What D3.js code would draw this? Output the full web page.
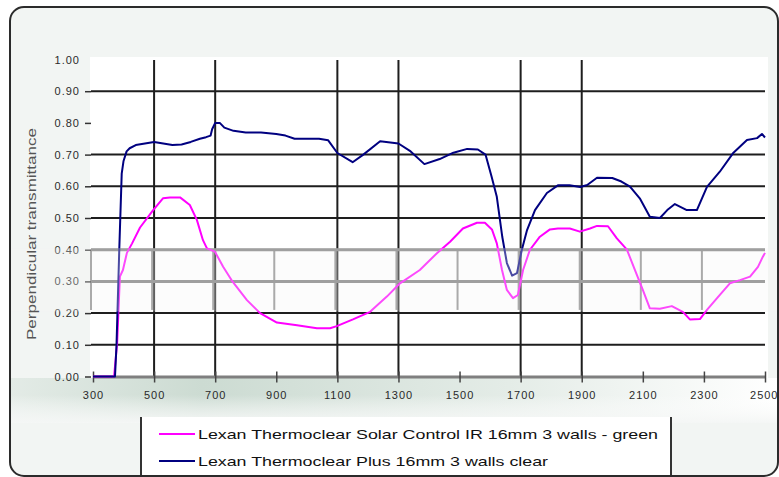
<html>
<head>
    <title>Perpendicular transmittance</title>
    <script src="https://d3js.org/d3.v7.min.js"></script>
    <style>
        body { margin: 0; background: #fff; }
        .tickLabels text { font-family: "Liberation Sans", Arial, sans-serif; font-size: 11px; fill: #2a2a2a; letter-spacing: 1px; }
        .legendLabels { font-family: "Liberation Sans", Arial, sans-serif; font-size: 13px; fill: #111; }
    </style>
</head>
<body>
<svg id="chart" width="779" height="477"></svg>
<script>

    // wavelength (nm) / transmittance pairs
    const blueWl = [300, 372, 377, 386, 394, 400, 410, 420, 440, 470, 500, 530, 560, 590, 620, 650, 670, 685, 690, 700,
        715, 730, 760, 800, 850, 900, 930, 960, 1000, 1040, 1070, 1100, 1150, 1185, 1240, 1300, 1340, 1385, 1435,
        1480, 1525, 1560, 1585, 1605, 1622, 1640, 1655, 1672, 1688, 1704, 1721, 1747, 1786, 1822, 1860, 1895, 1918,
        1950, 2000, 2030, 2058, 2090, 2123, 2156, 2180, 2205, 2244, 2277, 2310, 2352, 2395, 2441, 2474, 2490, 2500];
    const blueVal = [0, 0, 0.10, 0.40, 0.64, 0.68, 0.71, 0.72, 0.73, 0.735, 0.74, 0.735, 0.73, 0.732, 0.74, 0.75, 0.755, 0.76, 0.78, 0.80,
        0.80, 0.785, 0.775, 0.77, 0.77, 0.765, 0.76, 0.75, 0.75, 0.75, 0.745, 0.705, 0.676, 0.70, 0.742, 0.735, 0.71, 0.67, 0.686,
        0.706, 0.718, 0.716, 0.70, 0.63, 0.567, 0.44, 0.358, 0.318, 0.326, 0.40, 0.462, 0.525, 0.579, 0.603, 0.603, 0.598, 0.604,
        0.627, 0.626, 0.615, 0.599, 0.562, 0.504, 0.50, 0.525, 0.544, 0.525, 0.525, 0.598, 0.646, 0.704, 0.746, 0.752, 0.765, 0.754];

    const pinkWl = [300, 369, 379, 388, 398, 411, 428, 454, 497, 529, 552, 585, 617, 640, 660, 673, 699, 726, 757, 804,
        847, 902, 968, 1033, 1076, 1098, 1151, 1207, 1262, 1305, 1370, 1426, 1469, 1511, 1557, 1583, 1606, 1622, 1639,
        1655, 1675, 1691, 1708, 1730, 1763, 1796, 1822, 1861, 1894, 1927, 1950, 1986, 2015, 2048, 2074, 2100, 2123,
        2156, 2195, 2231, 2254, 2287, 2310, 2343, 2385, 2418, 2451, 2477, 2493, 2500];
    const pinkVal = [0, 0, 0.105, 0.315, 0.336, 0.39, 0.42, 0.47, 0.525, 0.562, 0.565, 0.565, 0.541, 0.494, 0.43, 0.404, 0.394, 0.346, 0.299, 0.241,
        0.20, 0.17, 0.162, 0.152, 0.152, 0.159, 0.18, 0.204, 0.252, 0.294, 0.336, 0.389, 0.425, 0.467, 0.485, 0.485, 0.464, 0.42, 0.336,
        0.273, 0.247, 0.257, 0.336, 0.399, 0.441, 0.464, 0.467, 0.467, 0.457, 0.467, 0.475, 0.474, 0.436, 0.40, 0.336, 0.273, 0.215,
        0.214, 0.222, 0.204, 0.18, 0.181, 0.21, 0.247, 0.294, 0.304, 0.315, 0.346, 0.378, 0.39];

    const seriesNames = ["Lexan Thermoclear Solar Control IR 16mm 3 walls - green",
        "Lexan Thermoclear Plus 16mm 3 walls clear"];
    const seriesColors = ["#ff00ff", "#000080"];

    const xTicks = [300, 500, 700, 900, 1100, 1300, 1500, 1700, 1900, 2100, 2300, 2500];
    const yTicks = [0, 0.1, 0.2, 0.3, 0.4, 0.5, 0.6, 0.7, 0.8, 0.9, 1.0];
    const gridBlack = [0.1, 0.2, 0.5, 0.6, 0.7, 0.9];
    const gridGray = [0.3, 0.4];
    const vGridBlack = [500, 700, 1100, 1300, 1700, 1900];
    const yTitle = "Perpendicular transmittance";

    const svg = d3.select("#chart");
    const x = d3.scaleLinear().domain([300, 2500]).range([93, 765]);
    const y = d3.scaleLinear().domain([0, 1]).range([376.5, 59.5]);

    const defs = svg.append("defs");
    const g1 = defs.append("linearGradient").attr("id", "axisBand").attr("x1", 0).attr("x2", 1).attr("y1", 0).attr("y2", 0);
    g1.append("stop").attr("offset", "0%").attr("stop-color", "#e3ebe6");
    g1.append("stop").attr("offset", "25%").attr("stop-color", "#ccdbd2");
    g1.append("stop").attr("offset", "65%").attr("stop-color", "#e4ece7");
    g1.append("stop").attr("offset", "100%").attr("stop-color", "#ffffff");
    const g2 = defs.append("linearGradient").attr("id", "axisFade").attr("x1", 0).attr("x2", 0).attr("y1", 0).attr("y2", 1);
    g2.append("stop").attr("offset", "0%").attr("stop-color", "#fff").attr("stop-opacity", 0);
    g2.append("stop").attr("offset", "100%").attr("stop-color", "#f4f6f5").attr("stop-opacity", 1);

    // frame and background
    svg.append("rect").attr("x", 10).attr("y", 7).attr("width", 768).attr("height", 469)
        .attr("rx", 14).attr("fill", "#f2f5f3").attr("stroke", "none");
    svg.append("rect").attr("x", 11).attr("y", 378).attr("width", 766).attr("height", 44).attr("fill", "url(#axisBand)");
    svg.append("rect").attr("x", 11).attr("y", 395).attr("width", 766).attr("height", 28).attr("fill", "url(#axisFade)");
    svg.append("rect").attr("x", 90).attr("y", 57).attr("width", 678).attr("height", 321).attr("fill", "#fff");

    // gridlines
    const grid = svg.append("g");
    grid.selectAll("line.vg").data(xTicks.slice(0, 11)).join("line")
        .attr("x1", d => x(d) - 2).attr("x2", d => x(d) - 2)
        .attr("y1", y(0.4)).attr("y2", y(0.21))
        .attr("stroke", "#8a8a8a").attr("stroke-width", 2);
    grid.selectAll("line.vb").data(vGridBlack).join("line")
        .attr("x1", d => x(d)).attr("x2", d => x(d))
        .attr("y1", 60).attr("y2", y(0))
        .attr("stroke", "#1e1e1e").attr("stroke-width", 2);
    grid.selectAll("line.hb").data(gridBlack).join("line")
        .attr("x1", 91).attr("x2", 765)
        .attr("y1", d => y(d)).attr("y2", d => y(d))
        .attr("stroke", "#1e1e1e").attr("stroke-width", 2);
    grid.selectAll("line.hg").data(gridGray).join("line")
        .attr("x1", 91).attr("x2", 765)
        .attr("y1", d => y(d)).attr("y2", d => y(d))
        .attr("stroke", "#7a7a7a").attr("stroke-width", 3);

    // axes
    const yAxis = svg.append("g").attr("class", "tickLabels")
        .attr("transform", "translate(91,0)")
        .call(d3.axisLeft(y).tickValues(yTicks).tickFormat(d3.format(".2f")).tickSize(6).tickPadding(5));
    yAxis.select(".domain").remove();
    yAxis.selectAll(".tick line").attr("stroke", "#333").attr("stroke-width", 1.5);
    yAxis.selectAll(".tick").filter(d => d === 1).select("line").remove();

    const xAxis = svg.append("g").attr("class", "tickLabels")
        .attr("transform", "translate(0," + y(0) + ")")
        .call(d3.axisBottom(x).tickValues(xTicks).tickFormat(d3.format("d"))
            .tickSize(6).tickPadding(9).tickSizeOuter(0));
    xAxis.select(".domain").attr("stroke", "#7f7f7f").attr("stroke-width", 3);
    xAxis.selectAll(".tick line").attr("y1", -5).attr("stroke", "#444").attr("stroke-width", 1.5);
    // last label sits against the right edge of the window
    xAxis.selectAll(".tick").filter(d => d === 2500).select("text")
        .attr("text-anchor", "end").attr("x", 13);

    // series
    const line = d3.line().x(d => x(d[0])).y(d => y(d[1]));
    const pinkData = d3.zip(pinkWl, pinkVal);
    const blueData = d3.zip(blueWl, blueVal);
    svg.selectAll("path.series").data([pinkData, blueData]).join("path")
        .attr("class", "series")
        .attr("fill", "none")
        .attr("stroke", (d, i) => seriesColors[i])
        .attr("stroke-width", 2)
        .attr("stroke-linejoin", "round")
        .attr("d", line);

    // washed-out band of the scan
    svg.append("rect").attr("x", 11).attr("y", y(0.405)).attr("width", 766).attr("height", y(0.205) - y(0.405))
        .attr("fill", "#f4f6f5").attr("opacity", 0.3);

    // axis title
    svg.append("text")
        .attr("transform", "translate(36,234) rotate(-90)")
        .attr("text-anchor", "middle")
        .attr("font-family", "Liberation Sans, Arial, sans-serif")
        .attr("font-size", 12)
        .attr("fill", "#555")
        .attr("textLength", 212)
        .attr("lengthAdjust", "spacingAndGlyphs")
        .text(yTitle);

    // legend
    svg.append("rect").attr("x", 141).attr("y", 417).attr("width", 530).attr("height", 62).attr("fill", "#fff");
    svg.selectAll("line.legendSide").data([141, 671]).join("line")
        .attr("x1", d => d).attr("x2", d => d).attr("y1", 417).attr("y2", 477)
        .attr("stroke", "#333").attr("stroke-width", 2);
    const legendLen = [460, 350];
    svg.selectAll("line.legendKey").data(seriesNames).join("line")
        .attr("x1", 159).attr("x2", 195)
        .attr("y1", (d, i) => 434 + i * 27).attr("y2", (d, i) => 434 + i * 27)
        .attr("stroke", (d, i) => seriesColors[i]).attr("stroke-width", 2);
    svg.selectAll("text.legendLabels").data(seriesNames).join("text")
        .attr("class", "legendLabels")
        .attr("x", 198)
        .attr("y", (d, i) => 434 + i * 27)
        .attr("dy", "0.35em")
        .attr("textLength", (d, i) => legendLen[i])
        .attr("lengthAdjust", "spacingAndGlyphs")
        .text(d => d);

    // frame border on top
    svg.append("rect").attr("x", 10).attr("y", 7).attr("width", 768).attr("height", 469)
        .attr("rx", 14).attr("fill", "none").attr("stroke", "#2b2b2b").attr("stroke-width", 2);
</script>
</body>
</html>
